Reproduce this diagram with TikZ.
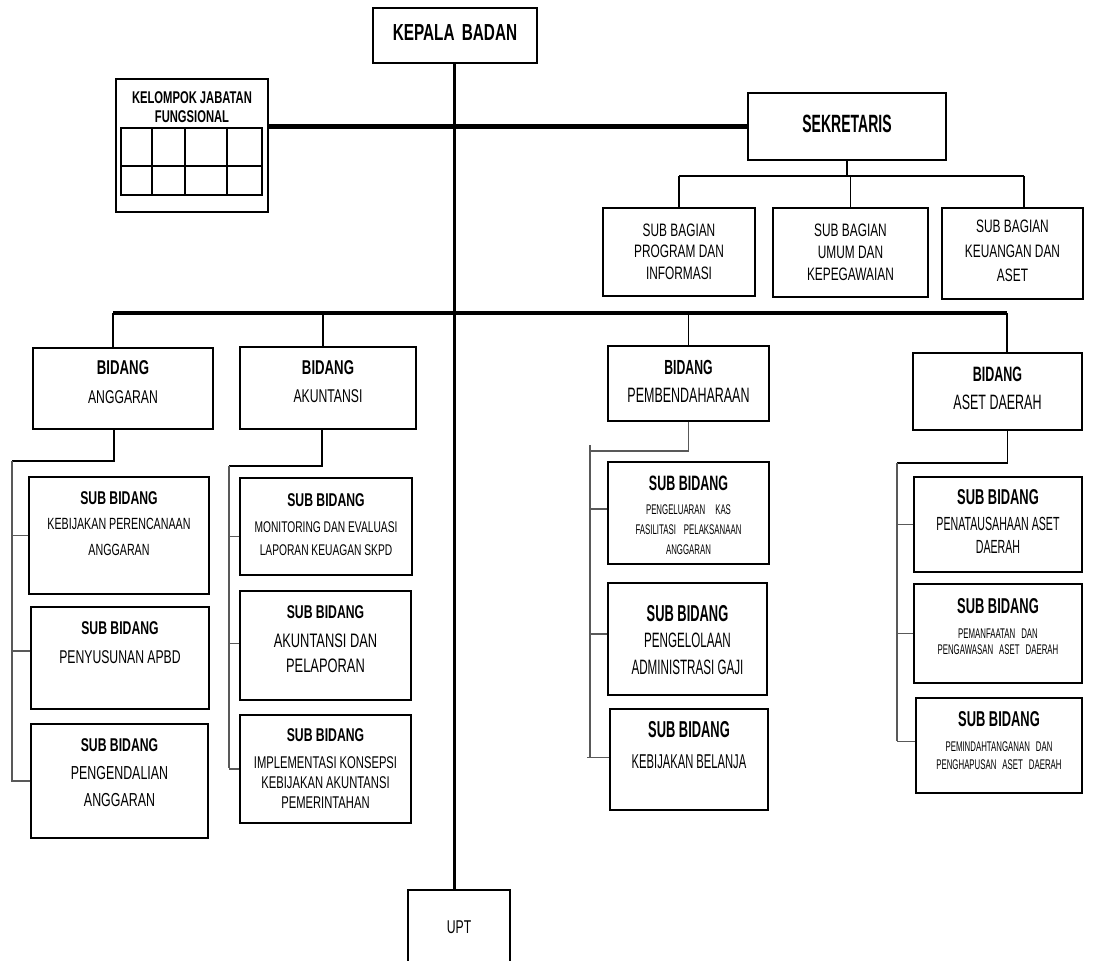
\documentclass[tikz,border=0pt]{standalone}
\usepackage{fontspec}
\setmainfont[FakeStretch=0.66]{Liberation Sans}
\newfontfamily\fmid[FakeStretch=0.6]{Liberation Sans}
\newfontfamily\fnar[FakeStretch=0.56]{Liberation Sans}
\usetikzlibrary{fit}
\newcommand\hd[3]{{#1\bfseries\fontsize{#2}{#2}\selectfont #3}}
\tikzset{
  box/.style={draw=black, line width=1.4pt, inner sep=0pt, fit={#1}},
  txt/.style={anchor=north, inner sep=0pt, align=center, text=black},
  conn/.style={line width=1.3pt, black},
  subln/.style={line width=1.8pt, black!65},
  bar/.style={line width=4.5pt, black},
  trunk/.style={line width=3pt, black},
}
\begin{document}
\begin{tikzpicture}[x=1pt,y=-1pt]
\path[use as bounding box, fill=white] (0,0) rectangle (1093,961);
\clip (0,0) rectangle (1093,961);

% ---------- boxes ----------
\node[box={(373,8)(537,63)}] (kb) {};
\node[box={(116,79)(268,212)}] (kjf) {};
\node[box={(121,128)(262,195)}, line width=1.3pt] (grid) {};
\draw[line width=1.3pt] (grid.west |- 0,166) -- (grid.east |- 0,166);
\foreach \gx in {152,185,227} \draw[line width=1.3pt] (\gx,128) -- (\gx,195);
\node[box={(748,93)(946,160)}] (sek) {};
\node[box={(603,208)(755,296)}] (sb1) {};
\node[box={(773,208)(928,297)}] (sb2) {};
\node[box={(942,208)(1083,299)}] (sb3) {};

\node[box={(33,348)(213,429)}] (ang) {};
\node[box={(240,347)(416,429)}] (aku) {};
\node[box={(608,346)(769,421)}] (pbd) {};
\node[box={(913,353)(1082,430)}] (aset) {};

\node[box={(29,477)(209,594)}] (as1) {};
\node[box={(31,607)(209,709)}] (as2) {};
\node[box={(31,724)(208,838)}] (as3) {};
\node[box={(240,478)(412,575)}] (ak1) {};
\node[box={(240,591)(411,700)}] (ak2) {};
\node[box={(240,715)(411,823)}] (ak3) {};
\node[box={(608,462)(769,564)}] (pb1) {};
\node[box={(608,583)(767,695)}] (pb2) {};
\node[box={(610,709)(768,810)}] (pb3) {};
\node[box={(914,477)(1082,572)}] (at1) {};
\node[box={(914,584)(1082,683)}] (at2) {};
\node[box={(916,698)(1082,793)}] (at3) {};
\node[box={(408,890)(510,990)}] (upt) {};

% ---------- main connectors ----------
\draw[trunk] ([xshift=-1pt]kb.south) -- ([xshift=-1pt]kb.south |- upt.north);
\draw[bar] (kjf.east |- sek.west) -- (sek.west);

\coordinate (sbL) at (679,176);
\coordinate (sbR) at (1024,176);
\draw[conn] (sek.south) -- (sek.south |- sbL);
\draw[conn] (sbL) -- (sbR);
\draw[conn] (sbL) -- (sb1.north);
\draw[conn] (sb2.north |- sbL) -- (sb2.north);
\draw[conn] (sbR) -- (sbR |- sb3.north);

\coordinate (barL) at (113,313);
\coordinate (barR) at (1007,313);
\draw[bar, line width=4pt] (barL) -- (barR);
\draw[conn] (barL) -- (barL |- ang.north);
\draw[conn] ([xshift=-5pt]aku.north |- barL) -- ([xshift=-5pt]aku.north);
\draw[conn] (pbd.north |- barL) -- (pbd.north);
\draw[conn] (barR) -- (barR |- aset.north);

% ---------- sub connectors ----------
\coordinate (angT) at (12,461);
\coordinate (angB) at (12,782);
\draw[conn] ([xshift=-9pt]ang.south) |- (angT);
\draw[subln] (angT) -- (angB);
\draw[subln] (as1.west) -- (as1.west -| angT);
\draw[subln] ([yshift=7pt]as2.west) -- ([yshift=7pt]as2.west -| angT);
\draw[subln] (as3.west) -- (as3.west -| angB);

\coordinate (akuT) at (229,466);
\coordinate (akuB) at (229,768);
\draw[conn] ([xshift=-6pt]aku.south) |- (akuT);
\draw[subln] (akuT) -- (akuB);
\draw[subln] ([yshift=-10pt]ak1.west) -- ([yshift=-10pt]ak1.west -| akuT);
\draw[subln] ([yshift=2pt]ak2.west) -- ([yshift=2pt]ak2.west -| akuT);
\draw[subln] (ak3.west) -- (ak3.west -| akuB);

\coordinate (pbdT) at (590,451);
\coordinate (pbdB) at (590,757);
\draw[subln] (pbd.south) |- (pbdT);
\draw[subln] ([yshift=6pt]pbdT) -- (pbdB);
\draw[subln] ([yshift=4pt]pb1.west) -- ([yshift=4pt]pb1.west -| pbdT);
\draw[subln] ([yshift=5pt]pb2.west) -- ([yshift=5pt]pb2.west -| pbdT);
\draw[subln] ([yshift=2pt]pb3.west) -- ([yshift=2pt,xshift=-3pt]pb3.west -| pbdB);

\coordinate (asetT) at (897,463);
\coordinate (asetB) at (897,741);
\draw[conn] ([xshift=10pt]aset.south) |- (asetT);
\draw[subln] (asetT) -- (asetB);
\draw[subln] (at1.west) -- (at1.west -| asetT);
\draw[subln] (at2.west) -- (at2.west -| asetT);
\draw[subln] ([yshift=4pt]at3.west) -- ([yshift=4pt]at3.west -| asetB);

% ---------- texts ----------
\node[txt, font=\bfseries\fontsize{23.2}{23.2}\selectfont] (tkb) at (455,24.7) {KEPALA\hspace{3pt} BADAN};
\node[txt, font=\bfseries\fontsize{17}{18.7}\selectfont] (tkjf) at (192,91.9) {KELOMPOK JABATAN\\FUNGSIONAL};
\node[txt, font=\fnar\bfseries\fontsize{25}{25}\selectfont] (tsek) at (847,115) {SEKRETARIS};
\node[txt, font=\fontsize{18}{21.5}\selectfont] (tsb1) at (679,223.5) {SUB BAGIAN\\PROGRAM DAN\\INFORMASI};
\node[txt, font=\fontsize{18}{22}\selectfont] (tsb2) at (850.5,223.8) {SUB BAGIAN\\UMUM DAN\\KEPEGAWAIAN};
\node[txt, font=\fontsize{18}{24.5}\selectfont] (tsb3) at (1012.5,220.2) {SUB BAGIAN\\KEUANGAN DAN\\ASET};

\node[txt, font=\fontsize{18.5}{28.5}\selectfont] (tang) at (123,360.8) {\hd{\relax}{20}{BIDANG}\\ANGGARAN};
\node[txt, font=\fontsize{18.5}{28.5}\selectfont] (taku) at (328,360) {\hd{\relax}{20}{BIDANG}\\AKUNTANSI};
\node[txt, font=\fmid\fontsize{20.8}{28}\selectfont] (tpbd) at (688.5,359.6) {\hd{\fmid}{20.4}{BIDANG}\\PEMBENDAHARAAN};
\node[txt, font=\fmid\fontsize{20.8}{28}\selectfont] (taset) at (997.5,366.5) {\hd{\fmid}{20.8}{BIDANG}\\ASET DAERAH};

\node[txt, font=\fontsize{16.2}{26}\selectfont] (tas1) at (119,491.3) {\hd{\relax}{18.5}{SUB BIDANG}\\[-0.8pt]KEBIJAKAN PERENCANAAN\\ANGGARAN};
\node[txt, font=\fontsize{18.5}{29}\selectfont] (tas2) at (120,621.4) {\hd{\relax}{18.5}{SUB BIDANG}\\PENYUSUNAN APBD};
\node[txt, font=\fontsize{18.8}{27}\selectfont] (tas3) at (119.5,738.4) {\hd{\relax}{18.5}{SUB BIDANG}\\[1.3pt]PENGENDALIAN\\ANGGARAN};

\node[txt, font=\fontsize{15.5}{23}\selectfont] (tak1) at (326,493.4) {\hd{\relax}{18.5}{SUB BIDANG}\\[2.8pt]MONITORING DAN EVALUASI\\LAPORAN KEUAGAN SKPD};
\node[txt, font=\fontsize{19.5}{25}\selectfont] (tak2) at (325.5,605.4) {\hd{\relax}{18.5}{SUB BIDANG}\\[3.8pt]AKUNTANSI DAN\\PELAPORAN};
\node[txt, font=\fontsize{17}{20}\selectfont] (tak3) at (325.5,728.4) {\hd{\relax}{18.5}{SUB BIDANG}\\[7.3pt]IMPLEMENTASI KONSEPSI\\KEBIJAKAN AKUNTANSI\\PEMERINTAHAN};

\node[txt, font=\fnar\fontsize{14}{20}\selectfont] (tpb1) at (688.5,475.5) {\hd{\fmid}{20.8}{SUB BIDANG}\\[4.5pt]PENGELUARAN\hspace{10pt}KAS\\FASILITASI\hspace{8pt}PELAKSANAAN\\ANGGARAN};
\node[txt, font=\fnar\fontsize{20.8}{26.7}\selectfont] (tpb2) at (687.5,605) {\hd{\fnar}{23}{SUB BIDANG}\\PENGELOLAAN\\ADMINISTRASI GAJI};
\node[txt, font=\fnar\fontsize{20}{30.9}\selectfont] (tpb3) at (689,721.7) {\hd{\fnar}{23}{SUB BIDANG}\\KEBIJAKAN BELANJA};

\node[txt, font=\fnar\fontsize{19}{23}\selectfont] (tat1) at (998,489.3) {\hd{\fmid}{21.5}{SUB BIDANG}\\[2.9pt]PENATAUSAHAAN ASET\\DAERAH};
\node[txt, font=\fnar\fontsize{14}{16.7}\selectfont] (tat2) at (998,598) {\hd{\fmid}{21.5}{SUB BIDANG}\\[8.1pt]PEMANFAATAN\hspace{6pt}DAN\\PENGAWASAN\hspace{6pt}ASET\hspace{6pt}DAERAH};
\node[txt, font=\fnar\fontsize{14}{18.3}\selectfont] (tat3) at (999,711.3) {\hd{\fmid}{21.5}{SUB BIDANG}\\[6.6pt]PEMINDAHTANGANAN\hspace{6pt}DAN\\PENGHAPUSAN\hspace{6pt}ASET\hspace{6pt}DAERAH};

\node[txt, font=\fontsize{18.5}{18.5}\selectfont] (tupt) at (459,920.3) {UPT};
\end{tikzpicture}
\end{document}
